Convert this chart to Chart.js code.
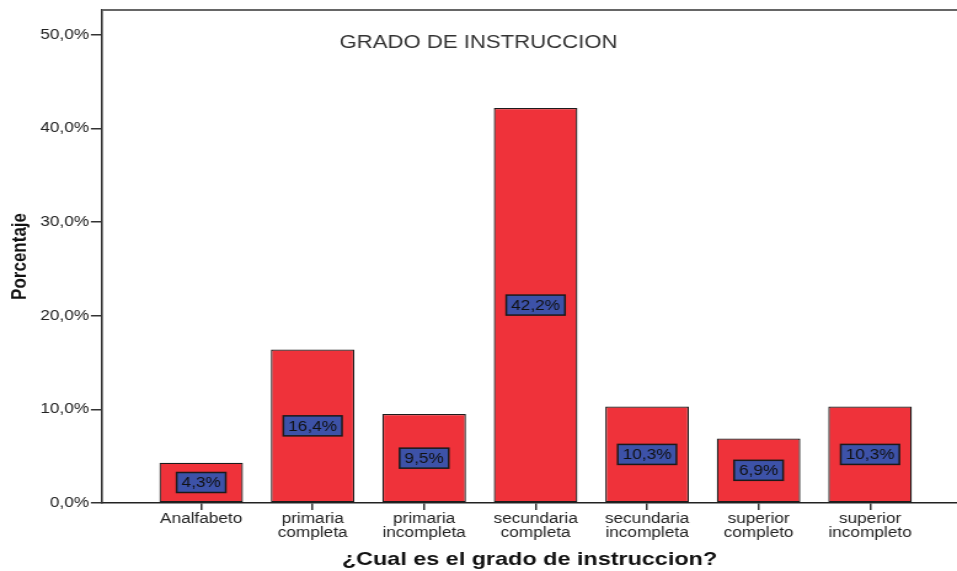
<!DOCTYPE html>
<html>
<head>
<meta charset="utf-8">
<title>Grado de instruccion</title>
<script src="https://cdn.jsdelivr.net/npm/chart.js@4/dist/chart.umd.min.js"></script>
<style>
  html, body { margin: 0; padding: 0; background: #fff; }
</style>
</head>
<body>
<!-- the reference is stretched sideways, so the canvas is drawn narrow and widened -->
<canvas id="chart" width="778" height="571" style="display:block;width:957px;height:571px"></canvas>
<script>
const categories = [
    'Analfabeto',
    'primaria completa',
    'primaria incompleta',
    'secundaria completa',
    'secundaria incompleta',
    'superior completo',
    'superior incompleto'
];
const percentages = [4.3, 16.4, 9.5, 42.2, 10.3, 6.9, 10.3];
const yTickValues = [0, 10, 20, 30, 40, 50];

const chartTitle = 'GRADO DE INSTRUCCION';
const xTitle = '¿Cual es el grado de instruccion?';
const yTitle = 'Porcentaje';

const fmt = (v) => v.toFixed(1).replace('.', ',') + '%';

Chart.defaults.font.family = '"Liberation Sans", Arial, sans-serif';
Chart.defaults.color = '#222';

// top frame line + title inside the plot
const frame = {
    id: 'frame',
    afterDraw(chart) {
        const { ctx, chartArea } = chart;
        ctx.save();
        ctx.strokeStyle = '#666';
        ctx.lineWidth = 2;
        ctx.beginPath();
        ctx.moveTo(chartArea.left, chartArea.top);
        ctx.lineTo(chartArea.right, chartArea.top);
        ctx.stroke();
        ctx.fillStyle = '#333';
        ctx.font = '18px "Liberation Sans", Arial, sans-serif';
        ctx.textAlign = 'center';
        ctx.textBaseline = 'middle';
        ctx.fillText(chartTitle, 389, 43);
        ctx.restore();
    }
};

// blue value boxes in the middle of each bar
const valueBoxes = {
    id: 'valueBoxes',
    afterDatasetsDraw(chart) {
        const { ctx } = chart;
        const meta = chart.getDatasetMeta(0);
        ctx.save();
        ctx.font = '14px "Liberation Sans", Arial, sans-serif';
        ctx.textAlign = 'center';
        ctx.textBaseline = 'middle';
        meta.data.forEach((bar, i) => {
            const text = fmt(percentages[i]);
            const cy = (bar.y + bar.base) / 2;
            const w = ctx.measureText(text).width + 8;
            const h = 20;
            ctx.fillStyle = '#3d52a8';
            ctx.fillRect(bar.x - w / 2, cy - h / 2, w, h);
            ctx.strokeStyle = '#1a1a1a';
            ctx.lineWidth = 1.5;
            ctx.strokeRect(bar.x - w / 2, cy - h / 2, w, h);
            ctx.fillStyle = '#111';
            ctx.fillText(text, bar.x, cy + 1);
        });
        ctx.restore();
    }
};

new Chart(document.getElementById('chart'), {
    type: 'bar',
    data: {
        datasets: [{
            data: percentages.map((v, i) => ({ x: i, y: v })),
            backgroundColor: '#ef323a',
            borderColor: '#1c1c1c',
            borderWidth: 1.3,
            borderSkipped: false,
            barPercentage: 0.75,
            categoryPercentage: 1
        }]
    },
    options: {
        responsive: false,
        animation: false,
        layout: { padding: { top: 9, right: 0, bottom: 0, left: 0 } },
        plugins: {
            legend: { display: false },
            tooltip: { enabled: false }
        },
        scales: {
            x: {
                type: 'linear',
                min: -0.89,
                max: 6.78,
                offset: false,
                afterBuildTicks: (scale) => {
                    scale.ticks = categories.map((c, i) => ({ value: i }));
                },
                afterFit: (scale) => { scale.height = 68; },
                grid: {
                    offset: false,
                    drawOnChartArea: false,
                    drawTicks: true,
                    tickLength: 7,
                    color: '#333',
                    lineWidth: 1.5
                },
                border: { display: true, color: '#222', width: 1.5 },
                ticks: {
                    autoSkip: false,
                    maxRotation: 0,
                    padding: 2,
                    color: '#222',
                    font: { size: 14, lineHeight: 1 },
                    callback: (value) => categories[value] ? categories[value].split(' ') : ''
                },
                title: {
                    display: true,
                    text: xTitle,
                    color: '#111',
                    padding: 0,
                    font: { size: 19, weight: 'bold' }
                }
            },
            y: {
                min: 0,
                max: 52.67,
                afterBuildTicks: (scale) => {
                    scale.ticks = yTickValues.map((v) => ({ value: v }));
                },
                afterFit: (scale) => { scale.width = 82.9; },
                grid: {
                    drawOnChartArea: false,
                    drawTicks: true,
                    tickLength: 9,
                    color: '#333',
                    lineWidth: 1.5
                },
                border: { display: true, color: '#333', width: 1.6 },
                ticks: {
                    padding: 1.5,
                    color: '#222',
                    font: { size: 14 },
                    callback: (value) => fmt(value)
                },
                title: {
                    display: true,
                    text: yTitle,
                    color: '#111',
                    padding: { top: 6, bottom: 0 },
                    font: { size: 17, weight: 'bold' }
                }
            }
        }
    },
    plugins: [frame, valueBoxes]
});
</script>
</body>
</html>
